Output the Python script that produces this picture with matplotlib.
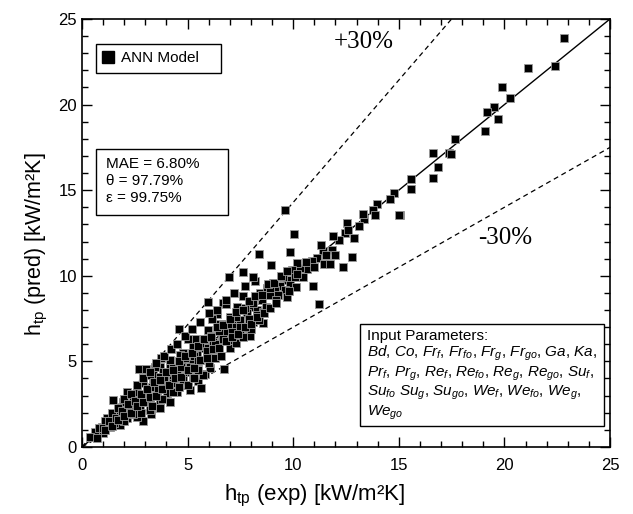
import matplotlib
matplotlib.use('Agg')
import matplotlib.pyplot as plt
from matplotlib.ticker import MultipleLocator
from matplotlib.lines import Line2D
from matplotlib.patches import Rectangle

plt.rcParams['font.family'] = ['Liberation Sans', 'DejaVu Sans']
plt.rcParams['mathtext.fontset'] = 'custom'
plt.rcParams['mathtext.rm'] = 'Liberation Sans'
plt.rcParams['mathtext.it'] = 'Liberation Sans:italic'

# measured vs. predicted heat transfer coefficient [kW/m2K]
h_exp = [
    22.84, 22.39, 21.10, 20.28, 19.89, 19.51, 19.19, 19.68, 19.10, 17.68,
    17.36, 17.47, 16.63, 16.87, 16.60, 15.56, 15.58, 15.06, 14.79, 14.58,
    13.95, 13.76, 13.87, 15.00, 13.35,
    9.63, 10.04, 8.37, 9.86, 8.93, 7.64, 6.96, 8.21, 7.61, 10.95,
    12.53, 12.45, 12.17, 11.84, 11.43, 11.55, 11.11, 10.89, 11.46, 11.74,
    12.34, 10.67, 10.32, 10.17, 9.93, 10.48, 10.09, 9.69, 9.85, 9.38,
    9.06, 9.61, 10.13, 9.14, 8.74, 8.43, 8.90, 9.29, 9.69, 11.21, 12.77,
    5.97, 6.66, 6.80, 4.61, 5.00, 5.40, 3.72, 2.68, 3.01, 6.72,
    5.82, 5.48, 5.65, 3.25, 2.87, 1.48,
    7.35, 8.74, 6.41, 7.95, 8.27, 7.80, 8.58, 6.14, 7.01, 7.48,
    8.11, 8.58, 6.53, 7.16, 7.80, 5.98, 6.77, 7.48, 7.95, 5.74,
    6.22, 6.61, 7.16, 5.27, 5.82, 6.38, 4.80, 5.43, 5.98, 4.17,
    4.72, 5.19, 3.69, 4.17, 4.56, 4.96, 6.06, 3.38, 3.93, 4.32,
    4.80, 5.27, 5.74,
    4.64, 3.46, 3.85, 3.22, 3.69, 2.90, 3.38, 3.85, 4.32, 4.80,
    2.12, 2.59, 3.06, 3.54, 4.01, 4.48, 5.11, 1.96, 2.43, 2.83,
    3.22, 3.69, 4.17, 1.80, 2.27, 2.75, 3.22, 3.69, 1.17, 1.64,
    2.12, 2.59, 0.93, 1.33, 1.80, 0.62, 1.01, 0.38, 0.70,
    1.20, 1.50, 1.90, 2.30, 2.50, 2.90, 3.10, 3.30, 3.60, 3.90,
    4.10, 4.30, 4.50, 4.70, 4.90, 5.10, 5.30, 5.50, 5.60, 5.90,
    6.10, 6.30, 6.50, 6.70, 6.90, 7.10, 7.30, 7.50, 7.70, 7.90,
    8.10, 8.30, 8.50, 8.70, 8.90, 9.20, 9.50, 9.80, 10.20, 10.60,
    11.00, 11.30, 11.90, 12.00, 12.60, 13.10, 13.30, 12.90,
    2.00, 2.40, 2.80, 3.30, 3.80, 4.30, 4.60, 5.00, 5.30, 5.50,
    6.00, 6.30, 6.60, 7.00, 7.30, 7.60, 8.00, 8.40,
    0.80, 1.10, 1.40, 1.70, 2.00, 2.30, 2.60, 2.90, 3.20, 3.50,
    3.90, 4.20, 4.50, 4.90, 5.20, 5.60, 6.00, 6.40, 6.80, 7.20,
    7.70, 8.10,
    1.00, 1.30, 1.60, 1.90, 2.20, 2.50, 2.80, 3.10, 3.40, 3.70,
    4.00, 4.30, 4.60, 4.90, 5.20, 5.50, 5.80, 6.10, 6.40, 6.70,
    7.00, 7.30, 7.60, 7.90, 8.20, 8.50, 8.80, 9.10, 9.40, 9.70,
    1.10, 1.40, 1.70, 2.00, 2.30, 2.60, 2.90, 3.20, 3.50, 3.80,
    4.10, 4.40, 4.70, 5.00, 5.30, 5.60, 5.90, 6.20, 6.50, 6.80,
    7.10, 7.40, 7.70, 8.00, 8.30, 8.60, 8.90, 9.20,
]
h_pred = [
    23.89, 22.24, 22.14, 20.40, 21.03, 19.88, 19.55, 19.16, 18.44, 18.01,
    17.16, 17.10, 17.16, 16.34, 15.73, 15.64, 15.09, 13.55, 14.82, 14.47,
    14.18, 13.84, 13.55, 13.53, 13.30,
    13.84, 12.46, 11.25, 11.39, 10.63, 10.22, 9.93, 9.71, 8.80, 9.40,
    13.10, 12.48, 12.09, 11.51, 11.43, 11.21, 11.02, 10.85, 10.69, 10.69,
    10.50, 10.38, 10.47, 10.73, 10.34, 9.95, 9.95, 9.75, 9.46, 9.40,
    9.56, 9.17, 9.36, 9.17, 9.17, 8.98, 8.88, 8.88, 8.78, 8.35, 11.08,
    8.47, 8.39, 8.33, 6.87, 6.33, 6.29, 5.18, 4.57, 4.57, 4.57,
    4.24, 3.86, 3.47, 1.93, 1.54, 2.75,
    8.16, 9.27, 7.75, 8.20, 8.00, 7.81, 7.90, 7.46, 7.58, 7.42,
    7.32, 7.22, 7.18, 7.03, 6.93, 6.83, 6.73, 6.64, 6.48, 6.25,
    6.15, 6.25, 6.25, 5.86, 5.77, 5.71, 5.47, 5.37, 5.27, 5.08,
    4.98, 4.92, 4.69, 4.60, 4.50, 4.40, 4.60, 4.21, 4.21, 4.11,
    4.11, 4.11, 4.21,
    5.37, 4.69, 4.40, 4.21, 4.11, 3.72, 3.72, 3.72, 3.72, 3.91,
    3.23, 3.23, 3.33, 3.23, 3.14, 3.23, 3.33, 2.65, 2.75, 2.65,
    2.84, 2.75, 2.65, 2.16, 2.16, 2.26, 2.16, 2.26, 1.67, 1.67,
    1.67, 1.77, 1.19, 1.19, 1.29, 0.89, 0.80, 0.60, 0.51,
    1.30, 1.40, 1.80, 2.40, 2.10, 3.00, 2.60, 3.50, 3.40, 3.90,
    3.60, 4.60, 4.20, 4.70, 5.20, 4.70, 5.30, 5.00, 5.90, 5.60,
    6.50, 6.00, 6.80, 6.30, 7.20, 6.70, 7.60, 7.00, 8.10, 7.50,
    8.40, 7.70, 8.60, 8.20, 9.30, 8.60, 9.90, 9.10, 10.10, 10.80,
    10.50, 11.80, 12.30, 11.20, 12.70, 12.90, 13.60, 12.20,
    1.50, 1.90, 2.00, 2.40, 2.80, 3.20, 3.50, 3.60, 4.00, 4.50,
    4.90, 5.20, 5.30, 5.80, 6.10, 6.40, 6.90, 7.40,
    1.10, 1.50, 2.00, 2.30, 2.80, 3.10, 3.60, 4.00, 4.40, 4.90,
    5.30, 5.70, 6.00, 6.50, 6.90, 7.30, 7.80, 8.00, 8.60, 9.00,
    9.40, 9.90,
    1.10, 1.50, 1.70, 2.10, 2.50, 2.70, 3.10, 3.40, 3.80, 3.90,
    4.40, 4.50, 5.00, 5.30, 5.50, 5.90, 6.30, 6.40, 7.00, 7.10,
    7.50, 7.90, 8.00, 8.50, 8.80, 8.90, 9.50, 9.60, 10.00, 10.30,
    1.00, 1.20, 1.60, 1.80, 2.00, 2.40, 2.60, 2.90, 3.00, 3.40,
    3.60, 4.00, 4.10, 4.50, 4.60, 5.10, 5.20, 5.70, 5.80, 6.20,
    6.40, 6.60, 7.00, 7.20, 7.60, 7.80, 8.10, 8.40,
]

stats_text = 'MAE = 6.80%\nθ = 97.79%\nε = 99.75%'
inputs_text = ('Input Parameters:\n'
               r'$Bd$, $Co$, $Fr_f$, $Fr_{fo}$, $Fr_g$, $Fr_{go}$, $Ga$, $Ka$,' '\n'
               r'$Pr_f$, $Pr_g$, $Re_f$, $Re_{fo}$, $Re_g$, $Re_{go}$, $Su_f$,' '\n'
               r'$Su_{fo}$ $Su_g$, $Su_{go}$, $We_f$, $We_{fo}$, $We_g$,' '\n'
               r'$We_{go}$')

fig = plt.figure(figsize=(6.33, 5.14), dpi=100)
ax = fig.add_axes([0.1295, 0.1304, 0.8342, 0.8327])

# reference lines: perfect agreement and +/-30 %
ax.plot([0, 25], [0, 25], color='black', lw=1.0, zorder=3)
ax.plot([0, 25 * 0.7], [0, 25], color='black', lw=0.9, ls=(0, (4, 3)), zorder=3)
ax.plot([0, 25], [0, 25 * 0.7], color='black', lw=0.9, ls=(0, (4, 3)), zorder=3)

ax.plot(h_exp, h_pred, ls='none', marker='s', ms=6.2, mfc='black',
        mec='#9a9a9a', mew=0.6, zorder=4)

ax.set_xlim(0, 25)
ax.set_ylim(0, 25)
ax.xaxis.set_major_locator(MultipleLocator(5))
ax.yaxis.set_major_locator(MultipleLocator(5))
ax.xaxis.set_minor_locator(MultipleLocator(1))
ax.yaxis.set_minor_locator(MultipleLocator(1))
ax.tick_params(which='both', direction='in', top=True, right=True, width=1.0,
               labelsize=12)
ax.tick_params(which='major', length=7)
ax.tick_params(which='minor', length=4)
ax.tick_params(axis='x', pad=8)
for sp in ax.spines.values():
    sp.set_linewidth(1.2)

ax.set_xlabel(r'h$_{\rm tp}$ (exp) [kW/m²K]', fontsize=16, labelpad=7)
ax.set_ylabel(r'h$_{\rm tp}$ (pred) [kW/m²K]', fontsize=15.5, labelpad=6)
ax.xaxis.label.set_x(0.441)
ax.yaxis.label.set_y(0.474)

# legend box
ax.add_patch(Rectangle((0.0265, 0.874), 0.2367, 0.0678, transform=ax.transAxes,
                       fc='white', ec='black', lw=1.0, zorder=5))
handle = Line2D([], [], ls='none', marker='s', ms=8.5, mfc='black', mec='black')
leg = ax.legend([handle], ['ANN Model'], loc='center left',
                bbox_to_anchor=(0.0265, 0.908), fontsize=11, frameon=False,
                borderaxespad=0, borderpad=0.4, handletextpad=0.45,
                handlelength=0.8)
leg.set_zorder(6)

# statistics box
ax.add_patch(Rectangle((0.0265, 0.542), 0.25, 0.154, transform=ax.transAxes,
                       fc='white', ec='black', lw=1.0, zorder=5))
ax.text(0.0455, 0.6215, stats_text, transform=ax.transAxes, fontsize=11,
        va='center', ha='left', linespacing=1.25, zorder=6)

# input parameter box
ax.add_patch(Rectangle((0.5265, 0.049), 0.4621, 0.2384, transform=ax.transAxes,
                       fc='white', ec='black', lw=1.0, zorder=5))
ax.text(0.5398, 0.168, inputs_text, transform=ax.transAxes, fontsize=11,
        va='center', ha='left', linespacing=1.1, zorder=6)

ax.text(11.93, 23.66, '+30%', family='Liberation Serif', fontsize=18,
        va='center', ha='left')
ax.text(18.75, 12.2, '-30%', family='Liberation Serif', fontsize=18,
        va='center', ha='left')

fig.savefig('out.png', dpi=100)
